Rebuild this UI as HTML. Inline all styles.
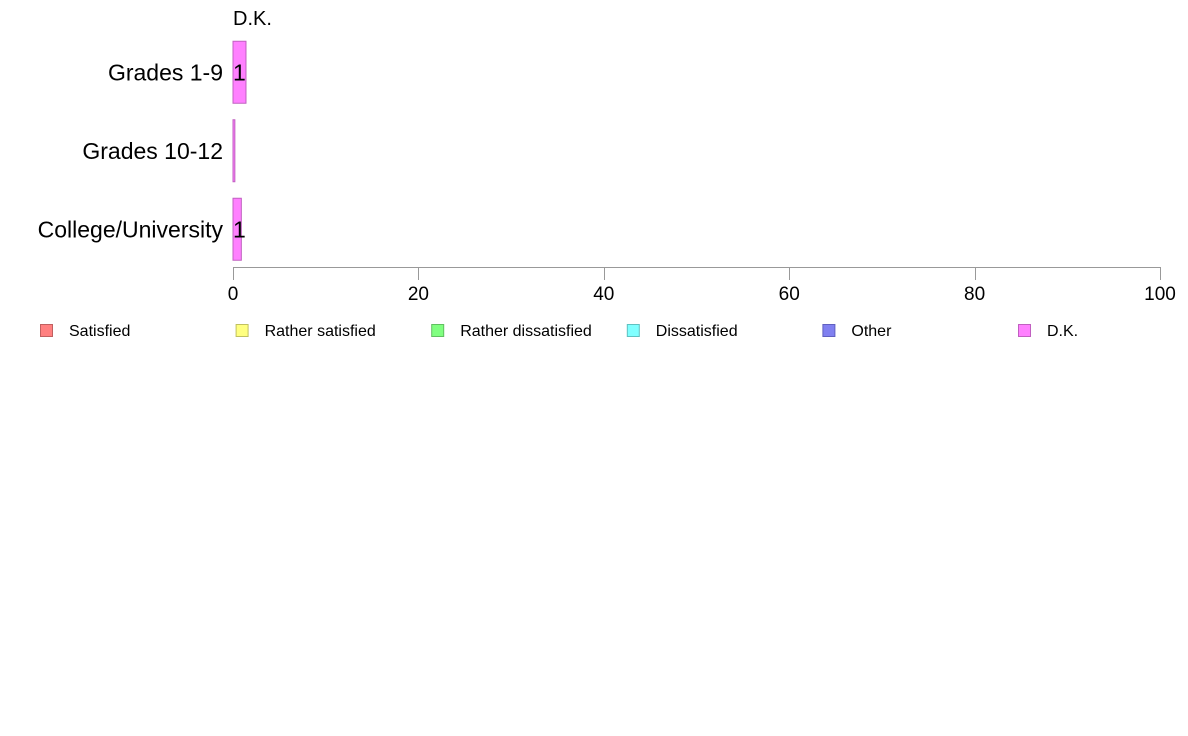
<!DOCTYPE html>
<html><head><meta charset="utf-8"><style>
html,body{margin:0;padding:0;background:#fff;}
svg{display:block;font-family:"Liberation Sans",Arial,sans-serif;}
</style></head><body>
<svg id="chart" width="1188" height="736" viewBox="0 0 1188 736" xmlns="http://www.w3.org/2000/svg"></svg>
<script>
const categories = ["Grades 1-9", "Grades 10-12", "College/University"];
const seriesNames = ["Satisfied", "Rather satisfied", "Rather dissatisfied", "Dissatisfied", "Other", "D.K."];
const satisfied = [0, 0, 0];
const ratherSatisfied = [0, 0, 0];
const ratherDissatisfied = [0, 0, 0];
const dissatisfied = [0, 0, 0];
const other = [0, 0, 0];
const dk = [1.4, 0.2, 0.9];
const valueLabels = ["1", "", "1"];
const xTicks = [0, 20, 40, 60, 80, 100];

const colors = ["#ff8080", "#ffff80", "#80ff80", "#80ffff", "#8080f0", "#ff80ff"];
const strokes = ["#c06060", "#c0c060", "#60c060", "#60c0c0", "#6060c0", "#c060c0"];
const allSeries = [satisfied, ratherSatisfied, ratherDissatisfied, dissatisfied, other, dk];
const svg = document.getElementById('chart');
const NS = "http://www.w3.org/2000/svg";
const x0 = 233, x1 = 1160;
function xScale(v){ return x0 + (v/100)*(x1-x0); }
const bandTop = 29, bandStep = 78.5, barH = 62;
function yBand(i){ return bandTop + i*bandStep + (bandStep - barH)/2 + 4; }
function mk(tag, attrs){ const e = document.createElementNS(NS, tag); for (const k in attrs) e.setAttribute(k, attrs[k]); svg.appendChild(e); return e; }

// series title at top
let t = mk('text', {x: 233, y: 25, 'font-size': 20, fill: '#000'});
t.textContent = "D.K.";



categories.forEach((c, i) => {
  const y = yBand(i);
  let lab = mk('text', {x: 223, y: y + barH/2 + 8, 'font-size': 23, 'text-anchor': 'end', fill: '#000'});
  lab.textContent = c;
  
  
  let acc = 0;
  allSeries.forEach((s, k) => {
    const v = s[i];
    if (v <= 0) return;
    const r = mk('rect', {x: xScale(acc), y: y, width: Math.max(xScale(acc+v)-xScale(acc), 1), height: barH, fill: colors[k], stroke: strokes[k], 'stroke-width': 1});
    
    
    acc += v;
  });
  if (valueLabels[i]) {
    let vl = mk('text', {x: xScale(0), y: y + barH/2 + 8, 'font-size': 23, fill: '#000'});
    vl.textContent = valueLabels[i];
    
    
  }
});

// x axis
let ax = mk('line', {x1: x0, x2: x1, y1: 267.5, y2: 267.5, stroke: '#999', 'stroke-width': 1});


xTicks.forEach(v => {
  const x = Math.round(xScale(v)) + 0.5;
  let tk = mk('line', {x1: x, x2: x, y1: 267, y2: 280, stroke: '#999', 'stroke-width': 1});
  
  
  let tl = mk('text', {x: xScale(v), y: 300, 'font-size': 19, 'text-anchor': 'middle', fill: '#000'});
  tl.textContent = String(v);
  
  
});

// legend
seriesNames.forEach((n, k) => {
  const lx = 40 + k*195.6;
  let sw = mk('rect', {x: lx + 0.5, y: 324.5, width: 12, height: 12, fill: colors[k], stroke: strokes[k], 'stroke-width': 1});
  
  
  let lt = mk('text', {x: lx + 29, y: 336, 'font-size': 16, fill: '#000'});
  lt.textContent = n;
  
  
});
</script>
</body></html>
